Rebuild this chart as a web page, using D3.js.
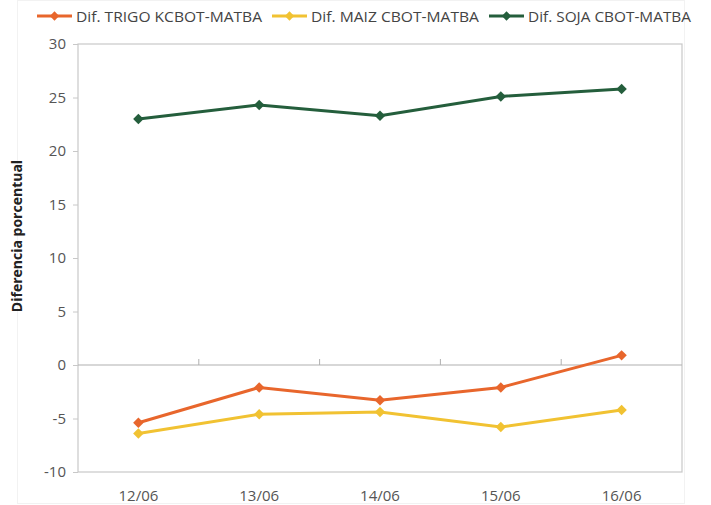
<!DOCTYPE html>
<html><head><meta charset="utf-8">
<script src="https://cdn.jsdelivr.net/npm/d3@7"></script>
<style>body{margin:0;background:#fff;} text{font-family:"Open Sans",Arial,sans-serif;}</style>
</head><body><svg id="c" width="711" height="505"></svg>
<script>
const categories = ["12/06","13/06","14/06","15/06","16/06"];
const trigo = [-5.4,-2.1,-3.3,-2.1,0.9];
const maiz  = [-6.4,-4.6,-4.4,-5.8,-4.2];
const soja  = [23.0,24.3,23.3,25.1,25.8];
const yTicks = [-10,-5,0,5,10,15,20,25,30];
const seriesNames = ["Dif. TRIGO KCBOT-MATBA","Dif. MAIZ CBOT-MATBA","Dif. SOJA CBOT-MATBA"];
const colors = ["#E8662C","#F1C232","#245E3C"];
const series = [trigo, maiz, soja];

const svg = d3.select("#c");
const L=78, R=682, T=44, B=472;
const x = d3.scaleBand().domain(categories).range([L,R]);
const y = d3.scaleLinear().domain([-10,30]).range([B,T]);

svg.append("rect").attr("x",17.5).attr("y",0.5).attr("width",667).attr("height",503)
  .attr("fill","none").attr("stroke","#f2f2f2");
svg.append("rect").attr("x",L).attr("y",T).attr("width",R-L).attr("height",B-T)
  .attr("fill","none").attr("stroke","#c8c8c8").attr("stroke-width",1.2);

const ya = svg.append("g").attr("transform",`translate(${L},0)`)
  .call(d3.axisLeft(y).tickValues(yTicks).tickFormat(d=>String(d)).tickSize(5).tickPadding(7));
ya.select(".domain").remove();
ya.selectAll("line").attr("stroke","#c8c8c8");
ya.selectAll("text").attr("fill","#555").style("font-size","15px");

const y0 = y(0);
svg.append("line").attr("x1",L).attr("x2",R).attr("y1",y0).attr("y2",y0).attr("stroke","#b0b0b0").attr("stroke-width",1.2);
svg.append("g").selectAll("line").data(categories.slice(1)).join("line")
  .attr("x1",d=>x(d)).attr("x2",d=>x(d)).attr("y1",y0-6).attr("y2",y0).attr("stroke","#b0b0b0");

svg.append("g").selectAll("text").data(categories).join("text")
  .attr("x",d=>x(d)+x.bandwidth()/2).attr("y",501).attr("text-anchor","middle")
  .attr("fill","#555").style("font-size","15px").text(d=>d);

svg.append("text").attr("transform",`translate(22,${(T+B)/2-22}) rotate(-90)`)
  .attr("text-anchor","middle").style("font-size","14px").style("font-weight","bold").attr("fill","#222")
  .text("Diferencia porcentual");

const line = d3.line().x((d,i)=>x(categories[i])+x.bandwidth()/2).y(d=>y(d));
const diamond = d3.symbol().type(d3.symbolDiamond2).size(70);
series.forEach((s,k)=>{
  svg.append("path").datum(s).attr("d",line).attr("fill","none").attr("stroke",colors[k]).attr("stroke-width",3);
  svg.append("g").selectAll("path").data(s).join("path")
    .attr("transform",(d,i)=>`translate(${x(categories[i])+x.bandwidth()/2},${y(d)})`)
    .attr("d",diamond).attr("fill",colors[k]);
});

const legX = [37,272,489];
const legW = [186,168,163];
seriesNames.forEach((n,k)=>{
  const g = svg.append("g").attr("transform",`translate(${legX[k]},16)`);
  g.append("line").attr("x1",0).attr("x2",35).attr("stroke",colors[k]).attr("stroke-width",3);
  g.append("path").attr("transform","translate(17.5,0)").attr("d",d3.symbol().type(d3.symbolDiamond2).size(55)).attr("fill",colors[k]);
  g.append("text").attr("x",39).attr("y",5.5).style("font-size","15px").attr("fill","#444")
    .attr("textLength",legW[k]).attr("lengthAdjust","spacingAndGlyphs").text(n);
});
</script></body></html>
